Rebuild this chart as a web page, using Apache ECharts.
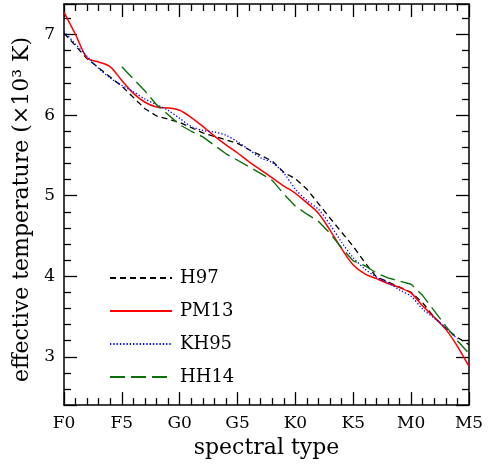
<!DOCTYPE html>
<html>
<head>
<meta charset="utf-8">
<script src="https://cdn.jsdelivr.net/npm/echarts@6/dist/echarts.min.js"></script>
<style>
html,body{margin:0;padding:0;background:#fff;}
#chart{width:491px;height:464px;}
</style>
</head>
<body>
<div id="chart"></div>
<script>
// spectral-type tick labels (one major tick every 5 subtypes)
const xTickLabels = ['F0','F5','G0','G5','K0','K5','M0','M5'];

// H97 (subtype index from F0, Teff in 10^3 K)
const h97X = [0,2,5,7,8,10,12,15,16,18,19,20,21,23,25,26,27,28,30,31,32,33,34,35];
const h97T = [7.02,6.70,6.36,6.08,5.99,5.91,5.78,5.65,5.57,5.43,5.29,5.21,5.08,4.72,4.37,4.17,3.99,3.93,3.80,3.67,3.49,3.35,3.24,3.15];

// PM13
const pm13X = [0,1,2,3,4,5,6,7,8,9,10,11,12,13,14,15,16,17,18,19,20,21,22,23,24,25,26,27,28,29,30,31,32,33,34,35];
const pm13T = [7.28,7.00,6.71,6.66,6.60,6.43,6.27,6.16,6.10,6.09,6.06,5.97,5.86,5.74,5.63,5.53,5.42,5.32,5.22,5.12,5.03,4.91,4.78,4.57,4.34,4.14,4.03,3.97,3.91,3.86,3.79,3.63,3.49,3.34,3.13,2.88];

// KH95
const kh95X = [0,1,2,3,4,5,6,7,8,9,10,11,12,13,14,15,16,17,18,19,20,21,22,23,24,25,26,27,28,29,30,31,32,33,34];
const kh95T = [7.04,6.88,6.73,6.58,6.46,6.37,6.29,6.20,6.13,6.06,5.96,5.86,5.81,5.79,5.75,5.67,5.57,5.47,5.41,5.28,5.08,4.94,4.83,4.64,4.42,4.23,4.09,3.99,3.92,3.83,3.75,3.59,3.48,3.36,3.22];

// HH14
const hh14X = [5,7,8,10,11,12,14,16,18,19,20,21,22,23,24,25,26,27,28,30,31,32,33,34,35];
const hh14T = [6.60,6.30,6.13,5.88,5.80,5.73,5.52,5.36,5.19,5.02,4.87,4.77,4.68,4.53,4.35,4.19,4.13,4.04,3.98,3.90,3.76,3.57,3.38,3.20,3.04];

function zip(xs, ys){ return xs.map((x,i)=>[x, ys[i]]); }

const FONT = 'DejaVu Serif';
const chart = echarts.init(document.getElementById('chart'), null, {renderer:'canvas'});

const axisLineStyle = {color:'#000', width:1.5};
function xAx(pos, showLabel){
  return {
    type:'value', position:pos, min:0, max:35, interval:5,
    axisLine:{show:true, onZero:false, lineStyle:axisLineStyle},
    axisTick:{show:true, inside:true, length:13, lineStyle:{color:'#000', width:1.3}},
    minorTick:{show:true, splitNumber:5, length:7, lineStyle:{color:'#000', width:1.3}},
    splitLine:{show:false}, minorSplitLine:{show:false},
    axisLabel:{show:showLabel, margin:10, color:'#000', fontFamily:FONT, fontSize:17,
      formatter:function(v){ const k=Math.round(v/5); return (Math.abs(v-5*k)<1e-6 && xTickLabels[k]) ? xTickLabels[k] : ''; }},
    name: showLabel ? 'spectral type' : '',
    nameLocation:'middle', nameGap:27,
    nameTextStyle:{color:'#000', fontFamily:FONT, fontSize:22}
  };
}
function yAx(pos, showLabel){
  return {
    type:'value', position:pos, min:2.4, max:7.38, splitNumber:5,
    axisLine:{show:true, onZero:false, lineStyle:axisLineStyle},
    axisTick:{show:true, inside:true, length:13, lineStyle:{color:'#000', width:1.3}},
    minorTick:{show:true, splitNumber:5, length:7, lineStyle:{color:'#000', width:1.3}},
    splitLine:{show:false}, minorSplitLine:{show:false},
    axisLabel:{show:showLabel, margin:9, color:'#000', fontFamily:FONT, fontSize:17,
      formatter:function(v){ return Math.abs(v-Math.round(v))<1e-6 ? String(Math.round(v)) : ''; }},
    name: showLabel ? 'effective temperature (×10³ K)' : '',
    nameLocation:'middle', nameGap:25,
    nameTextStyle:{color:'#000', fontFamily:FONT, fontSize:22, padding:[0,10,0,0]}
  };
}

function ser(name, xs, ys, color, type, width, smooth){
  return {
    name:name, type:'line', xAxisIndex:0, yAxisIndex:0,
    data:zip(xs, ys), showSymbol:false, symbol:'none', smooth:smooth,
    lineStyle:{color:color, width:width, type:type},
    itemStyle:{color:color}, silent:true, animation:false, z:3
  };
}

chart.setOption({
  animation:false,
  backgroundColor:'#fff',
  grid:{left:64, right:22, top:4, bottom:55, containLabel:false},
  xAxis:[xAx('bottom', true), xAx('top', false)],
  yAxis:[yAx('left', true), yAx('right', false)],
  legend:{
    show:true, orient:'vertical', left:104, top:264, itemWidth:62, itemHeight:14, itemGap:15,
    selectedMode:false,
    itemStyle:{opacity:0},
    textStyle:{color:'#000', fontFamily:FONT, fontSize:18, padding:[0,0,0,3]},
    data:['H97','PM13','KH95','HH14']
  },
  series:[
    ser('H97', h97X, h97T, '#000000', [6,4], 1.3, false),
    ser('PM13', pm13X, pm13T, '#ff0000', 'solid', 1.5, 0.3),
    ser('KH95', kh95X, kh95T, '#0000ff', [1.3,2], 1.3, 0.3),
    ser('HH14', hh14X, hh14T, '#0a700a', [15,6], 1.4, false)
  ]
});
</script>
</body>
</html>
